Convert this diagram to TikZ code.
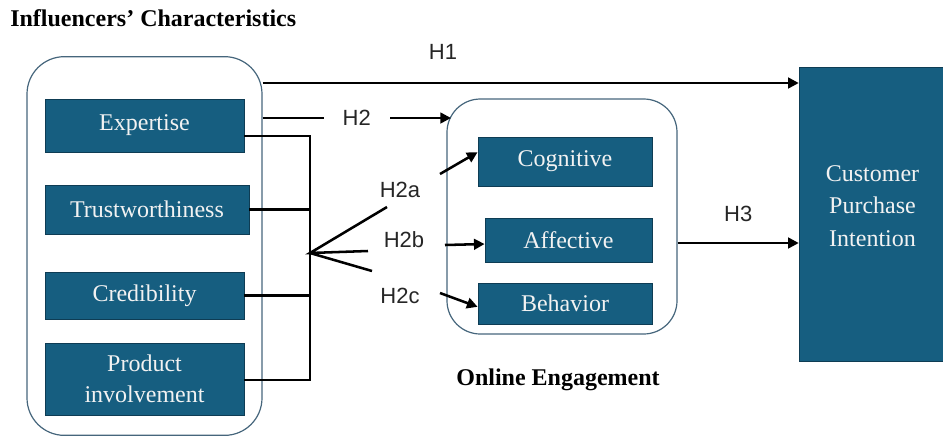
\documentclass[tikz,border=0pt]{standalone}
\usepackage{fontspec}
\setmainfont{Liberation Serif}
\setsansfont{Liberation Sans}
\usetikzlibrary{positioning,arrows.meta}
\definecolor{boxblue}{RGB}{22,94,128}
\definecolor{boxedge}{RGB}{14,60,84}
\definecolor{groupedge}{RGB}{70,102,124}

\begin{document}
\begin{tikzpicture}[x=0.75pt,y=-0.75pt,
    factor/.style={draw=boxedge,fill=boxblue,text=white!95!black,line width=0.6pt,
        font=\fontsize{18}{23}\selectfont,align=center,inner sep=0pt},
    group/.style={draw=groupedge,line width=0.9pt,rounded corners=28pt,inner sep=0pt},
    hyp/.style={font=\sffamily\fontsize{16.5}{20}\selectfont,text=black!85,inner sep=1pt},
    link/.style={line width=1.9pt},
    arr/.style={link,-{Triangle[length=8pt,width=8pt]}}]
    \useasboundingbox (0,0) rectangle (943,437);

    % groups
    \node[group,minimum width=176.25pt,minimum height=284pt] (infl) at (144.5,246) {};
    \node[group,rounded corners=25pt,minimum width=172.5pt,minimum height=176.25pt] (engage) at (562,216.5) {};
    \node[font=\bfseries\fontsize{18}{22}\selectfont,anchor=west,inner sep=0pt] (title) at (10,18) {Influencers’ Characteristics};
    \node[font=\bfseries\fontsize{18}{22}\selectfont] (oe) at (558,380) {Online Engagement};

    % characteristics
    \node[factor,minimum width=149.25pt,minimum height=39.75pt] (exp) at (144.5,125.5) {Expertise};
    \node[factor,minimum width=153pt,minimum height=36.75pt] (trust) at (147,209.5) {Trustworthiness};
    \node[factor,minimum width=149.25pt,minimum height=35.25pt] (cred) at (144.5,295.5) {Credibility};
    \node[factor,minimum width=149.25pt,minimum height=54pt] (prod) at (144.5,379) {Product\\involvement};

    % engagement
    \node[factor,minimum width=130.5pt,minimum height=36.75pt] (cog) at (565,161.5) {Cognitive};
    \node[factor,minimum width=125.25pt,minimum height=33pt] (aff) at (568.5,240) {Affective};
    \node[factor,minimum width=130.5pt,minimum height=30.75pt] (beh) at (565,303.5) {Behavior};

    \node[factor,minimum width=110pt,minimum height=220.5pt,text depth=12pt,
        font=\fontsize{18}{24.5}\selectfont] (cpi) at (872.5,214) {Customer\\Purchase\\Intention};

    % bus and fan
    \coordinate (bustop) at (310,136);
    \coordinate (busbot) at (310,380);
    \coordinate (hub) at (310,253);
    \draw[link] (exp.east |- bustop) -- (bustop) -- (busbot) -- (prod.east |- busbot);
    \draw[link] (trust.east) -- (trust.east -| hub);
    \draw[link] (cred.east) -- (cred.east -| hub);
    \coordinate (fa) at (387,207);
    \coordinate (fb) at (368,251);
    \coordinate (fc) at (372,271);
    \draw[link] (fa) -- (hub) -- (fb) (hub) -- (fc);

    % hypotheses
    \node[hyp] (h1) at (443,52) {H1};
    \node[hyp] (h2a) at (400,190) {H2a};
    \node[hyp] (h2b) at (404,240) {H2b};
    \node[hyp] (h2c) at (400,296) {H2c};
    \coordinate (s2a) at (440,174);
    \coordinate (s2b) at (445,245);
    \coordinate (s2c) at (440,293);
    \coordinate (h2end) at (451,118);
    \draw[arr] (s2a) -- ([yshift=7pt]cog.west);
    \draw[arr] (s2b) -- ([yshift=-3pt]aff.west);
    \draw[arr] (s2c) -- ([yshift=-2.5pt]beh.west);
    \draw[arr] (infl.east |- h2end) -- node[hyp,fill=white,inner xsep=14pt] (h2) {H2} (h2end);
    \draw[arr] (infl.east |- 0,83) -- (cpi.west |- 0,83);
    \draw[arr] (engage.east |- 0,243) -- node[hyp,above=14pt] (h3) {H3} (cpi.west |- 0,243);
\end{tikzpicture}
\end{document}
